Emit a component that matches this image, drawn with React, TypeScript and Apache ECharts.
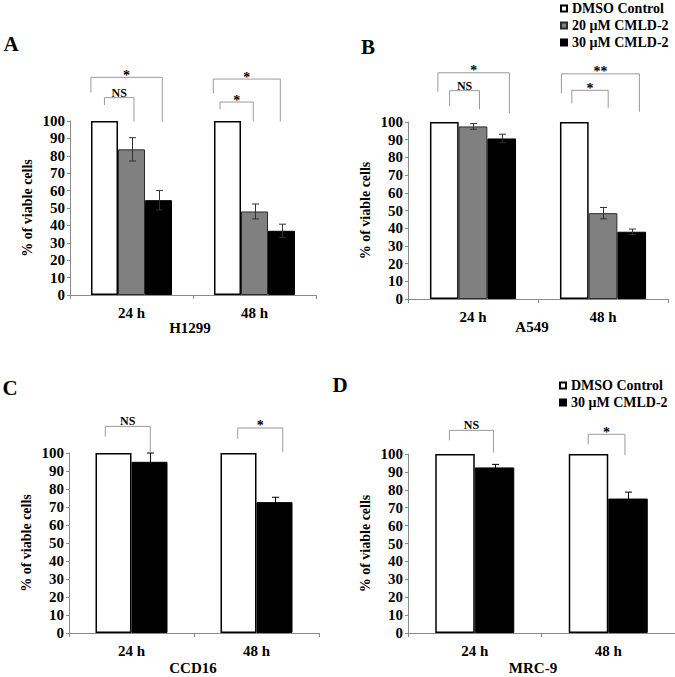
import React, { useEffect, useRef } from "react";
import * as echarts from "echarts";

// ---------- data ----------
const timepoints = ["24 h", "48 h"];
const yTicks = { min: 0, max: 100, step: 10 };

const seriesNames = ["DMSO Control", "20 μM CMLD-2", "30 μM CMLD-2"];

// H1299
const h1299Control = [100, 100];
const h1299Cmld20 = [83.7, 48.0];
const h1299Cmld20Err = [6.7, 4.3];
const h1299Cmld30 = [54.5, 36.9];
const h1299Cmld30Err = [5.6, 3.8];

// A549
const a549Control = [100, 100];
const a549Cmld20 = [97.5, 48.5];
const a549Cmld20Err = [1.6, 3.2];
const a549Cmld30 = [90.7, 38.0];
const a549Cmld30Err = [2.4, 1.5];

// CCD16
const ccd16Control = [100, 100];
const ccd16Cmld30 = [95.1, 72.7];
const ccd16Cmld30Err = [4.9, 2.7];

// MRC-9
const mrc9Control = [100, 100];
const mrc9Cmld30 = [92.5, 75.1];
const mrc9Cmld30Err = [1.7, 3.6];

// significance brackets (values on the y scale) + label
const h1299Sig = [
  { cat: 0, top: 125.1, leftEnd: 116.5, rightEnd: 99.6, label: "*" },
  { cat: 0, top: 113.4, leftEnd: 109.2, rightEnd: 99.6, label: "NS" },
  { cat: 1, top: 124.1, leftEnd: 115.9, rightEnd: 99.8, label: "*" },
  { cat: 1, top: 110.9, leftEnd: 106.7, rightEnd: 99.8, label: "*" },
];
const a549Sig = [
  { cat: 0, top: 127.8, leftEnd: 117.1, rightEnd: 104.9, label: "*" },
  { cat: 0, top: 117.7, leftEnd: 109.0, rightEnd: 107.2, label: "NS" },
  { cat: 1, top: 127.2, leftEnd: 116.2, rightEnd: 105.8, label: "**" },
  { cat: 1, top: 117.9, leftEnd: 110.5, rightEnd: 108.0, label: "*" },
];
const ccd16Sig = [
  { cat: 0, top: 114.8, leftEnd: 109.2, rightEnd: 100, label: "NS" },
  { cat: 1, top: 113.9, leftEnd: 107.9, rightEnd: 100.6, label: "*" },
];
const mrc9Sig = [
  { cat: 0, top: 113.2, leftEnd: 107.6, rightEnd: 100.8, label: "NS" },
  { cat: 1, top: 111.0, leftEnd: 105.4, rightEnd: 99.3, label: "*" },
];

// ---------- layout / style ----------
const FONT = "'Liberation Serif', 'Times New Roman', serif";
const AXIS_GRAY = "#8a8a8a";
const BRACKET_GRAY = "#9a9a9a";

const styles = [
  { color: "#ffffff", borderColor: "#000000", borderWidth: 1.5 },
  { color: "#808080", borderColor: "#2a2a2a", borderWidth: 1 },
  { color: "#000000", borderColor: "#000000", borderWidth: 1 },
];

// horizontal positions of bracket legs (fraction of category band from centre)
const h1299Legs = [[-0.33, 0.25], [-0.22, 0.02], [-0.335, 0.21], [-0.28, -0.01]];
const a549Legs = [[-0.27, 0.28], [-0.18, 0.05], [-0.32, 0.28], [-0.24, 0.04]];
const ccd16Legs = [[-0.21, 0.15], [-0.15, 0.21]];
const mrc9Legs = [[-0.19, 0.14], [-0.15, 0.125]];

type Panel = {
  grid: { left: number; top: number; width: number; height: number };
  barWidth: number;
  errColor: string;
  bars: { name: string; values: number[]; err?: number[]; style: any }[];
  sig: typeof h1299Sig;
  legs: number[][];
};

const panels: Panel[] = [
  {
    grid: { left: 70, top: 121, width: 246, height: 174 },
    barWidth: 27,
    errColor: "#333333",
    bars: [
      { name: seriesNames[0], values: h1299Control, style: styles[0] },
      { name: seriesNames[1], values: h1299Cmld20, err: h1299Cmld20Err, style: styles[1] },
      { name: seriesNames[2], values: h1299Cmld30, err: h1299Cmld30Err, style: styles[2] },
    ],
    sig: h1299Sig,
    legs: h1299Legs,
  },
  {
    grid: { left: 408, top: 122, width: 260, height: 177 },
    barWidth: 28.7,
    errColor: "#333333",
    bars: [
      { name: seriesNames[0], values: a549Control, style: styles[0] },
      { name: seriesNames[1], values: a549Cmld20, err: a549Cmld20Err, style: styles[1] },
      { name: seriesNames[2], values: a549Cmld30, err: a549Cmld30Err, style: styles[2] },
    ],
    sig: a549Sig,
    legs: a549Legs,
  },
  {
    grid: { left: 69, top: 453, width: 250, height: 180 },
    barWidth: 36,
    errColor: "#000000",
    bars: [
      { name: seriesNames[0], values: ccd16Control, style: styles[0] },
      { name: seriesNames[2], values: ccd16Cmld30, err: ccd16Cmld30Err, style: styles[2] },
    ],
    sig: ccd16Sig,
    legs: ccd16Legs,
  },
  {
    grid: { left: 408, top: 454, width: 276, height: 179 },
    barWidth: 39.5,
    errColor: "#000000",
    bars: [
      { name: seriesNames[0], values: mrc9Control, style: styles[0] },
      { name: seriesNames[2], values: mrc9Cmld30, err: mrc9Cmld30Err, style: styles[2] },
    ],
    sig: mrc9Sig,
    legs: mrc9Legs,
  },
];

const panelLetters = [
  { text: "A", x: 11, y: 44 },
  { text: "B", x: 368, y: 47 },
  { text: "C", x: 10, y: 388 },
  { text: "D", x: 340, y: 385 },
];
const cellNames = [
  { text: "H1299", x: 190, y: 328 },
  { text: "A549", x: 532, y: 327 },
  { text: "CCD16", x: 193, y: 668 },
  { text: "MRC-9", x: 533, y: 668 },
];

function buildOption() {
  const grid: any[] = [];
  const xAxis: any[] = [];
  const yAxis: any[] = [];
  const series: any[] = [];

  panels.forEach((p, gi) => {
    grid.push({ ...p.grid, containLabel: false });
    xAxis.push({
      type: "category",
      gridIndex: gi,
      data: timepoints,
      axisLine: { lineStyle: { color: AXIS_GRAY, width: 1 } },
      axisTick: { show: true, length: 4, lineStyle: { color: AXIS_GRAY } },
      axisLabel: {
        margin: 10,
        color: "#000",
        fontFamily: FONT,
        fontWeight: "bold",
        fontSize: 15,
      },
      splitLine: { show: false },
    });
    yAxis.push({
      type: "value",
      gridIndex: gi,
      min: yTicks.min,
      max: yTicks.max,
      interval: yTicks.step,
      name: "% of viable cells",
      nameLocation: "middle",
      nameGap: 36,
      nameTextStyle: {
        color: "#000",
        fontFamily: FONT,
        fontWeight: "bold",
        fontSize: 14,
      },
      axisLine: { show: true, lineStyle: { color: AXIS_GRAY, width: 1 } },
      axisTick: { show: true, length: 3, lineStyle: { color: AXIS_GRAY } },
      axisLabel: {
        margin: 5,
        color: "#000",
        fontFamily: FONT,
        fontWeight: "bold",
        fontSize: 15,
      },
      splitLine: { show: false },
    });

    const n = p.bars.length;
    p.bars.forEach((b) => {
      series.push({
        type: "bar",
        name: b.name,
        xAxisIndex: gi,
        yAxisIndex: gi,
        data: b.values,
        barWidth: p.barWidth,
        barGap: "0%",
        itemStyle: { ...b.style },
        emphasis: { disabled: true },
        z: 2,
      });
    });
    p.bars.forEach((b, bi) => {
      if (!b.err) return;
      const offset = (bi - (n - 1) / 2) * p.barWidth;
      const errColor = p.errColor;
      series.push({
        type: "custom",
        xAxisIndex: gi,
        yAxisIndex: gi,
        clip: false,
        z: 5,
        silent: true,
        encode: { x: 0, y: 1 },
        data: b.values.map((v, i) => [i, v, b.err![i]]),
        renderItem: (params: any, api: any) => {
          const c = api.value(0);
          const v = api.value(1);
          const e = api.value(2);
          const hi = api.coord([c, v + e]);
          const lo = api.coord([c, v - e]);
          const x = Math.round(hi[0] + offset) + 0.5;
          const cap = 3.5;
          const ls = { stroke: errColor, lineWidth: 1, fill: "none" };
          return {
            type: "group",
            children: [
              { type: "line", shape: { x1: x, y1: hi[1], x2: x, y2: lo[1] }, style: ls },
              { type: "line", shape: { x1: x - cap, y1: hi[1], x2: x + cap, y2: hi[1] }, style: ls },
              { type: "line", shape: { x1: x - cap, y1: lo[1], x2: x + cap, y2: lo[1] }, style: ls },
            ],
          };
        },
      });
    });

    // significance brackets
    const sig = p.sig;
    const legs = p.legs;
    series.push({
      type: "custom",
      xAxisIndex: gi,
      yAxisIndex: gi,
      clip: false,
      silent: true,
      z: 6,
      itemStyle: { color: "#000000" },
      encode: { x: 0, y: 1 },
      data: sig.map((s) => [s.cat, s.top, s.leftEnd, s.rightEnd]),
      renderItem: (params: any, api: any) => {
        const idx = params.dataIndex;
        const c = api.value(0);
        const band = api.size([1, 0])[0];
        const topPt = api.coord([c, api.value(1)]);
        const yL = api.coord([c, api.value(2)])[1];
        const yR = api.coord([c, api.value(3)])[1];
        const xl = topPt[0] + legs[idx][0] * band;
        const xr = topPt[0] + legs[idx][1] * band;
        const yt = topPt[1];
        const label = sig[idx].label;
        const isNS = label === "NS";
        return {
          type: "group",
          children: [
            {
              type: "polyline",
              shape: { points: [[xl, yL], [xl, yt], [xr, yt], [xr, yR]] },
              style: { stroke: BRACKET_GRAY, lineWidth: 1, fill: "none" },
            },
            {
              type: "text",
              style: {
                text: label,
                x: (xl + xr) / 2,
                y: isNS ? yt - 5 : yt - 2,
                align: "center",
                verticalAlign: "middle",
                fontFamily: FONT,
                fontWeight: "bold",
                fontSize: isNS ? 12 : 14,
                fill: "#000000",
                stroke: "none",
              },
            },
          ],
        };
      },
    });
  });

  const legendText = {
    fontFamily: FONT,
    fontWeight: "bold",
    fontSize: 14,
    color: "#000",
    lineHeight: 14,
  };

  const graphic: any[] = [];
  panelLetters.forEach((l) =>
    graphic.push({
      type: "text",
      x: l.x,
      y: l.y,
      style: {
        text: l.text,
        fontFamily: FONT,
        fontWeight: "bold",
        fontSize: 21,
        fill: "#000",
        align: "center",
        verticalAlign: "middle",
      },
    })
  );
  cellNames.forEach((l) =>
    graphic.push({
      type: "text",
      x: l.x,
      y: l.y,
      style: {
        text: l.text,
        fontFamily: FONT,
        fontWeight: "bold",
        fontSize: 15,
        fill: "#000",
        align: "center",
        verticalAlign: "middle",
      },
    })
  );

  return {
    animation: false,
    backgroundColor: "#ffffff",
    grid,
    xAxis,
    yAxis,
    series,
    graphic,
    legend: [
      {
        data: seriesNames,
        orient: "vertical",
        left: 560,
        top: 1.5,
        padding: 0,
        icon: "rect",
        itemWidth: 6,
        itemHeight: 6,
        itemGap: 3,
        selectedMode: false,
        textStyle: legendText,
      },
      {
        data: [seriesNames[0], seriesNames[2]],
        orient: "vertical",
        left: 559,
        top: 378.5,
        padding: 0,
        icon: "rect",
        itemWidth: 6,
        itemHeight: 6,
        itemGap: 3,
        selectedMode: false,
        textStyle: legendText,
      },
    ],
  };
}

export default function App() {
  const ref = useRef<HTMLDivElement>(null);
  useEffect(() => {
    if (!ref.current) return;
    const chart = echarts.init(ref.current, undefined, { renderer: "svg" });
    chart.setOption(buildOption() as any);
    return () => chart.dispose();
  }, []);
  return (
    <div
      ref={ref}
      style={{ position: "fixed", left: 0, top: 0, width: 675, height: 677, background: "#fff" }}
    />
  );
}
